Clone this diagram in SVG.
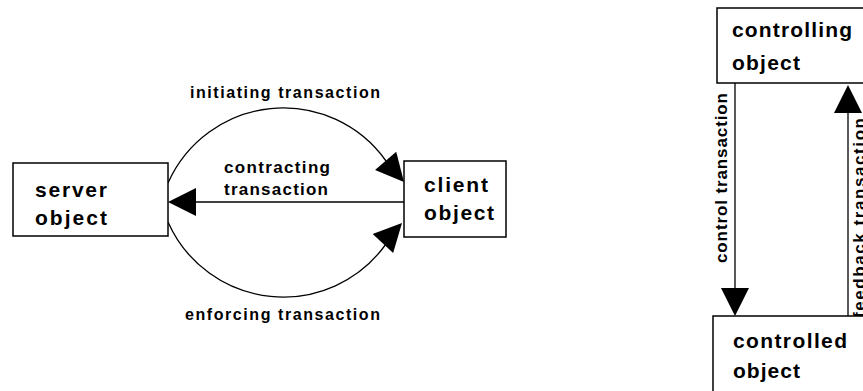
<svg xmlns="http://www.w3.org/2000/svg" xmlns:xlink="http://www.w3.org/1999/xlink" width="863" height="391" viewBox="0 0 863 391">
  <style>
    .box { fill: #fff; stroke: #000; stroke-width: 1.5; }
    .edge { fill: none; stroke: #000; stroke-width: 1.3; }
    .head { fill: #000; stroke: none; }
    text { font-family: "Liberation Sans", Arial, Helvetica, sans-serif; font-weight: bold; fill: #000; }
    .name { font-size: 21px; }
    .tag { font-size: 16px; }
    .vtag { font-size: 17px; }
  </style>
  <defs>
    <!-- filled arrowhead, tip at the origin, pointing along +x -->
    <path id="head" class="head" d="M0,0 L-28,-14 L-28,14 Z"/>
  </defs>

  <rect width="863" height="391" fill="#fff"/>

  <!-- connectors -->
  <g id="connectors">
    <!-- initiating: server -> client, upper arc -->
    <path class="edge" d="M168,183 A126,126 0 0,1 386,161"/>
    <use xlink:href="#head" transform="translate(404,182) rotate(49)"/>
    <!-- contracting: client -> server, straight -->
    <path class="edge" d="M404,202 L194,202"/>
    <use xlink:href="#head" transform="translate(168,202) rotate(180)"/>
    <!-- enforcing: server -> client, lower arc -->
    <path class="edge" d="M168,222 A126,126 0 0,0 386,244"/>
    <use xlink:href="#head" transform="translate(402,223) rotate(-47)"/>
    <!-- control: controlling -> controlled -->
    <path class="edge" d="M735,83 L735,290"/>
    <use xlink:href="#head" transform="translate(735,316) rotate(90)"/>
    <!-- feedback: controlled -> controlling -->
    <path class="edge" d="M848,316 L848,110"/>
    <use xlink:href="#head" transform="translate(848,85) rotate(-90)"/>

    <text class="tag" x="190" y="98" textLength="190" lengthAdjust="spacing">initiating transaction</text>
    <text class="vtag" x="224" y="173" textLength="106" lengthAdjust="spacing">contracting</text>
    <text class="vtag" x="224" y="195" textLength="104" lengthAdjust="spacing">transaction</text>
    <text class="tag" x="185" y="320" textLength="195" lengthAdjust="spacing">enforcing transaction</text>
    <text class="vtag" transform="translate(727,263) rotate(-90)" textLength="170" lengthAdjust="spacing">control transaction</text>
    <text class="vtag" transform="translate(865,318) rotate(-90)" textLength="200" lengthAdjust="spacing">feedback transaction</text>
  </g>

  <!-- nodes -->
  <g id="server">
    <rect class="box" x="13" y="163" width="155" height="73"/>
    <text class="name" x="35" y="197" textLength="72" lengthAdjust="spacing">server</text>
    <text class="name" x="35" y="225" textLength="72" lengthAdjust="spacing">object</text>
  </g>
  <g id="client">
    <rect class="box" x="404" y="161" width="102" height="76"/>
    <text class="name" x="424" y="192" textLength="64" lengthAdjust="spacing">client</text>
    <text class="name" x="424" y="220" textLength="70" lengthAdjust="spacing">object</text>
  </g>
  <g id="controlling">
    <rect class="box" x="717" y="8" width="160" height="75"/>
    <text class="name" x="732" y="37" textLength="120" lengthAdjust="spacing">controlling</text>
    <text class="name" x="732" y="70" textLength="68" lengthAdjust="spacing">object</text>
  </g>
  <g id="controlled">
    <rect class="box" x="713" y="316" width="170" height="100"/>
    <text class="name" x="733" y="348" textLength="114" lengthAdjust="spacing">controlled</text>
    <text class="name" x="733" y="378" textLength="67" lengthAdjust="spacing">object</text>
  </g>
</svg>
